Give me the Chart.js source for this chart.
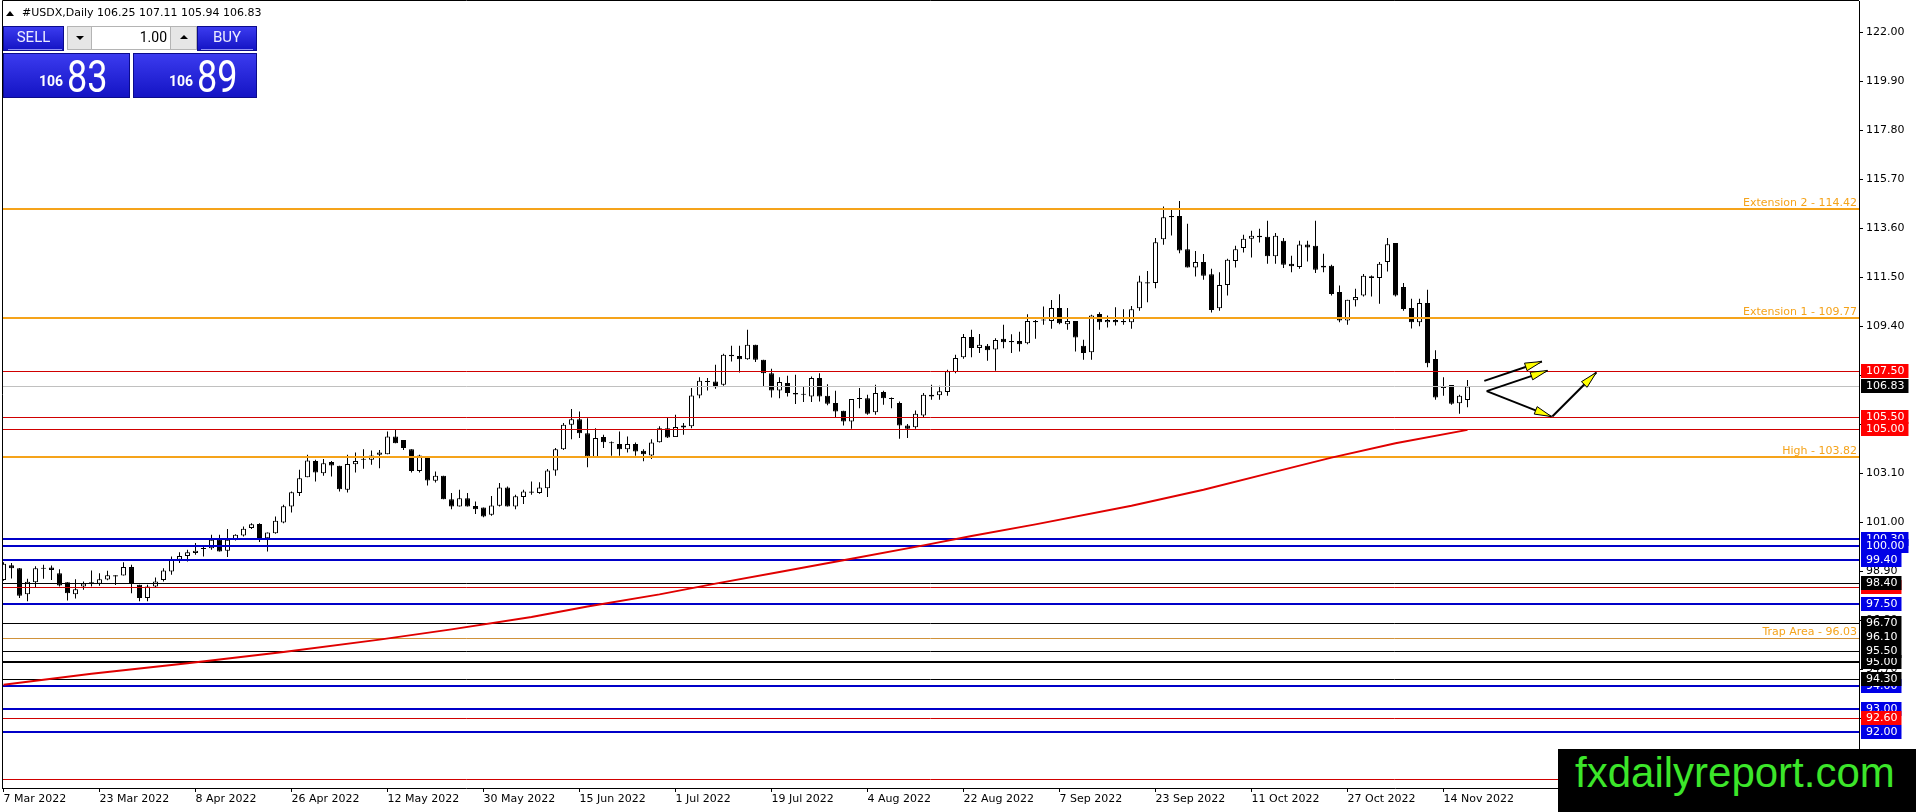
<!DOCTYPE html>
<html>
<head>
<meta charset="utf-8">
<title>#USDX,Daily</title>
<script src="https://cdn.jsdelivr.net/npm/chart.js@4.4.1/dist/chart.umd.min.js"></script>
<style>
html, body { margin: 0; padding: 0; background: #fff; }
#wrap { position: relative; width: 1916px; height: 812px; overflow: hidden; }
#myChart { position: absolute; left: 0; top: 0; }
.abs { position: absolute; white-space: pre; }
.testa { font: 11px/11px "DejaVu Sans", sans-serif; color: #000; top: 7px; }
.blu { position: absolute; box-sizing: border-box; background: linear-gradient(#3b3bef, #1414c4); border: 1px solid #0b0b8c; }
.riga { position: absolute; height: 1px; background: #8f8ff2; }
.bott { font: 15px/15px Roboto, sans-serif; color: #ececff; top: 30px; text-align: center; }
.grigio { position: absolute; box-sizing: border-box; background: #e6e6e6; border: 1px solid #b4b4b4; }
.piccolo { font: bold 14px/14px Roboto, sans-serif; color: #fff; top: 74px; }
.grande { font: 36px/36px Roboto, sans-serif; color: #fff; top: 62px; transform: scaleY(1.25); transform-origin: 0 30px; }
</style>
</head>
<body>
<div id="wrap">
<canvas id="myChart" width="1916" height="812"></canvas>

<div class="abs" style="left:6px;top:11px;width:0;height:0;border-left:4px solid transparent;border-right:4px solid transparent;border-bottom:5px solid #000;"></div>
<div class="abs testa" style="left:22px;">#USDX,Daily</div>
<div class="abs testa" style="left:97px;">106.25 107.11 105.94 106.83</div>

<div class="blu" style="left:3px;top:26px;width:61px;height:25px;"></div>
<div class="riga" style="left:8px;top:49px;width:54px;"></div>
<div class="abs bott" style="left:3px;width:61px;">SELL</div>

<div class="abs" style="left:67px;top:26px;width:130px;height:24px;box-sizing:border-box;background:#fff;border:1px solid #b4b4b4;"></div>
<div class="grigio" style="left:67px;top:26px;width:25px;height:24px;"></div>
<div class="abs" style="left:76px;top:36px;width:0;height:0;border-left:4px solid transparent;border-right:4px solid transparent;border-top:4px solid #000;"></div>
<div class="abs" style="left:92px;top:30px;width:75px;text-align:right;font:14px/14px Roboto, sans-serif;color:#000;">1.00</div>
<div class="grigio" style="left:170px;top:26px;width:27px;height:24px;"></div>
<div class="abs" style="left:180px;top:35px;width:0;height:0;border-left:4px solid transparent;border-right:4px solid transparent;border-bottom:4px solid #000;"></div>

<div class="blu" style="left:197px;top:26px;width:60px;height:25px;"></div>
<div class="riga" style="left:201px;top:49px;width:52px;"></div>
<div class="abs bott" style="left:197px;width:60px;">BUY</div>

<div class="blu" style="left:3px;top:53px;width:127px;height:45px;"></div>
<div class="blu" style="left:133px;top:53px;width:124px;height:45px;"></div>
<div class="abs piccolo" style="left:39px;">106</div>
<div class="abs grande" style="left:67px;">83</div>
<div class="abs piccolo" style="left:169px;">106</div>
<div class="abs grande" style="left:197px;">89</div>

<div class="abs" style="left:1558px;top:749px;width:358px;height:63px;background:#000;"></div>
<div class="abs" style="left:1575px;top:752px;font:42px/42px 'Liberation Sans', Arial, sans-serif;color:#3ce62a;">fxdailyreport.com</div>
</div>

<script>
const ctx =
    document.getElementById("myChart");

// candele giornaliere, dalla barra 0 (7 Mar 2022) alla 183 (17 Nov 2022)
const apertura = [
    98.54, 99.17, 99.04, 97.93, 98.44, 99.06, 99.07, 98.83, 98.44, 97.93,
    98.26, 98.44, 98.37, 98.56, 98.74, 98.73, 99.09, 98.33, 97.76, 98.26,
    98.54, 98.90, 99.40, 99.56, 99.69, 99.90, 99.90, 100.26, 99.79, 100.29,
    100.44, 100.76, 100.94, 100.33, 100.54, 101.00, 101.69, 102.26, 102.94, 103.64,
    103.11, 103.59, 103.43, 102.40, 103.50, 103.71, 103.69, 103.90, 103.93, 104.69,
    104.54, 104.14, 103.21, 103.76, 102.79, 103.00, 102.00, 101.69, 102.04, 101.71,
    101.64, 101.33, 101.72, 102.50, 101.69, 102.09, 102.33, 102.26, 102.47, 103.23,
    104.14, 105.19, 105.43, 104.83, 103.76, 104.66, 104.43, 104.36, 104.14, 104.36,
    104.07, 103.87, 104.44, 105.04, 104.66, 105.16, 105.12, 106.44, 107.04, 107.04,
    106.90, 108.19, 108.14, 108.00, 108.62, 107.98, 107.40, 106.66, 106.98, 106.55,
    106.52, 106.40, 107.19, 106.43, 106.12, 105.79, 105.33, 106.33, 106.33, 105.72,
    106.59, 106.33, 106.12, 105.16, 105.08, 105.59, 106.48, 106.45, 106.59, 107.45,
    108.08, 108.95, 108.48, 108.58, 108.41, 108.87, 108.78, 108.78, 108.68, 109.64,
    109.66, 109.64, 110.19, 109.50, 109.64, 108.57, 108.30, 109.94, 109.58, 109.68,
    109.64, 109.58, 110.18, 111.30, 111.26, 113.14, 114.14, 114.14, 112.71, 111.93,
    112.16, 111.64, 110.18, 111.18, 112.21, 112.76, 113.16, 113.29, 113.25, 112.41,
    113.08, 112.09, 111.95, 112.91, 112.86, 112.00, 112.00, 110.88, 109.66, 110.52,
    110.73, 111.55, 111.48, 112.16, 112.98, 111.09, 110.19, 109.58, 110.41, 108.01,
    106.76, 106.89, 106.11, 106.25
];

const massimo = [
    99.30, 99.26, 99.05, 98.59, 99.12, 99.19, 99.16, 99.00, 98.44, 98.57,
    98.47, 98.94, 98.83, 98.93, 98.74, 99.30, 99.19, 98.33, 98.33, 98.64,
    99.04, 99.54, 99.72, 99.83, 100.12, 99.99, 100.47, 100.47, 100.72, 100.50,
    100.83, 100.97, 100.97, 100.57, 101.26, 101.76, 102.33, 103.26, 103.90, 103.69,
    103.72, 103.64, 103.43, 103.90, 104.00, 104.14, 104.09, 104.11, 104.90, 104.97,
    104.54, 104.14, 103.90, 103.76, 103.19, 103.00, 102.26, 102.40, 102.26, 101.90,
    101.64, 102.14, 102.69, 102.54, 102.19, 102.40, 102.76, 102.72, 103.29, 104.19,
    105.26, 105.86, 105.76, 105.47, 105.04, 104.76, 104.47, 104.90, 104.69, 104.43,
    104.14, 104.57, 105.12, 105.52, 105.62, 105.26, 106.76, 107.22, 107.19, 107.76,
    108.23, 108.57, 108.57, 109.26, 108.62, 107.98, 107.59, 107.22, 107.29, 107.33,
    106.83, 107.26, 107.40, 106.93, 106.65, 105.79, 106.29, 106.76, 106.48, 106.90,
    106.65, 106.36, 106.19, 105.22, 105.80, 106.55, 106.90, 106.86, 107.55, 108.19,
    109.08, 109.26, 109.08, 108.65, 108.90, 109.47, 109.07, 109.18, 109.93, 109.68,
    110.26, 110.54, 110.78, 110.19, 109.64, 108.83, 109.90, 110.01, 109.87, 110.23,
    110.14, 110.28, 111.57, 111.78, 113.19, 114.54, 114.43, 114.78, 113.80, 112.64,
    112.51, 111.87, 111.73, 112.30, 112.86, 113.33, 113.50, 113.59, 113.93, 113.41,
    113.19, 112.43, 113.08, 113.08, 113.93, 112.52, 112.05, 111.16, 110.55, 111.02,
    111.65, 111.59, 112.16, 113.19, 112.98, 111.26, 110.59, 110.59, 110.98, 108.38,
    107.23, 106.89, 106.48, 107.11
];

const minimo = [
    98.50, 98.60, 97.76, 97.62, 98.19, 98.59, 98.54, 98.26, 97.66, 97.74,
    98.12, 98.26, 98.29, 98.52, 98.32, 98.73, 97.97, 97.62, 97.62, 98.23,
    98.47, 98.76, 99.26, 99.33, 99.62, 99.54, 99.83, 99.76, 99.52, 100.23,
    100.40, 100.72, 100.16, 99.76, 100.52, 100.97, 101.43, 102.14, 102.94, 102.76,
    103.00, 102.97, 102.33, 102.29, 103.14, 103.30, 103.47, 103.33, 103.93, 104.40,
    104.11, 103.14, 103.14, 102.59, 102.71, 102.00, 101.57, 101.69, 101.69, 101.36,
    101.22, 101.29, 101.69, 101.69, 101.57, 101.79, 102.19, 102.23, 102.09, 103.00,
    104.11, 104.57, 104.62, 103.37, 103.76, 104.19, 103.86, 103.86, 104.00, 103.86,
    103.62, 103.72, 104.43, 104.62, 104.66, 104.76, 105.04, 106.33, 106.66, 106.73,
    106.86, 107.90, 107.43, 107.97, 107.88, 106.83, 106.36, 106.33, 106.40, 106.08,
    106.16, 106.16, 106.19, 106.02, 105.50, 105.16, 105.02, 105.90, 105.62, 105.62,
    106.05, 105.90, 104.59, 104.62, 105.02, 105.50, 106.26, 106.26, 106.43, 107.40,
    108.02, 108.08, 108.26, 107.93, 107.50, 108.47, 108.26, 108.33, 108.64, 108.87,
    109.47, 109.30, 109.50, 109.26, 108.33, 107.97, 107.97, 109.26, 109.36, 109.44,
    109.47, 109.30, 110.07, 110.44, 111.04, 112.90, 113.30, 112.54, 111.93, 111.54,
    111.40, 110.00, 110.07, 110.73, 111.93, 112.57, 112.36, 113.00, 112.09, 112.09,
    111.91, 111.72, 111.88, 112.19, 111.69, 111.72, 110.73, 109.58, 109.48, 110.26,
    110.69, 110.69, 110.38, 111.76, 110.69, 110.08, 109.31, 109.41, 107.65, 106.26,
    106.43, 106.05, 105.66, 105.94
];

const chiusura = [
    99.23, 99.04, 97.86, 98.46, 99.04, 99.02, 98.96, 98.30, 97.97, 98.14,
    98.39, 98.36, 98.57, 98.74, 98.69, 99.09, 98.36, 97.76, 98.26, 98.47,
    98.94, 99.40, 99.56, 99.72, 99.79, 99.86, 100.26, 99.76, 100.26, 100.47,
    100.73, 100.93, 100.26, 100.57, 101.07, 101.70, 102.30, 102.90, 103.66, 103.14,
    103.54, 103.44, 102.43, 103.51, 103.64, 103.69, 103.87, 104.00, 104.69, 104.40,
    104.19, 103.21, 103.87, 102.80, 103.00, 102.00, 101.69, 102.04, 101.69, 101.57,
    101.26, 101.73, 102.50, 101.69, 102.12, 102.33, 102.28, 102.50, 103.23, 104.14,
    105.19, 105.43, 104.83, 103.83, 104.62, 104.44, 104.40, 104.14, 104.36, 104.04,
    103.93, 104.43, 105.04, 104.64, 105.09, 105.07, 106.44, 107.07, 107.02, 106.80,
    108.19, 108.13, 108.00, 108.62, 107.98, 107.40, 106.66, 107.02, 106.55, 106.49,
    106.48, 107.19, 106.40, 106.09, 105.76, 105.33, 106.29, 106.29, 105.66, 106.55,
    106.33, 106.29, 105.16, 105.02, 105.66, 106.48, 106.40, 106.62, 107.48, 108.05,
    108.95, 108.48, 108.62, 108.38, 108.82, 108.73, 108.73, 108.64, 109.64, 109.58,
    109.70, 110.19, 109.54, 109.64, 108.93, 108.26, 109.87, 109.58, 109.68, 109.58,
    109.58, 110.14, 111.33, 111.24, 113.01, 114.08, 114.08, 112.66, 111.93, 112.16,
    111.58, 110.11, 111.18, 112.26, 112.71, 113.16, 113.29, 113.22, 112.41, 113.29,
    112.05, 111.98, 112.91, 112.79, 111.83, 111.93, 110.79, 109.66, 110.55, 110.66,
    111.58, 111.48, 112.09, 112.93, 110.73, 110.15, 109.58, 110.41, 107.82, 106.36,
    106.85, 106.09, 106.43, 106.83
];

// media mobile letta a intervalli
const maBarre = [0, 11, 23, 35, 47, 56, 66, 73, 82, 89, 97, 106, 115, 121, 129, 141, 150, 159, 166, 174, 183];
const maValori = [94.05, 94.52, 94.97, 95.45, 95.98, 96.42, 96.95, 97.40, 97.92, 98.38, 98.88, 99.45, 100.02, 100.42, 100.92, 101.72, 102.40, 103.18, 103.78, 104.40, 104.97];

const tickBarre = [0, 12, 24, 36, 48, 60, 72, 84, 96, 108, 120, 132, 144, 156, 168, 180];
const etichetteDate = ["7 Mar 2022", "23 Mar 2022", "8 Apr 2022", "26 Apr 2022", "12 May 2022", "30 May 2022",
    "15 Jun 2022", "1 Jul 2022", "19 Jul 2022", "4 Aug 2022", "22 Aug 2022", "7 Sep 2022",
    "23 Sep 2022", "11 Oct 2022", "27 Oct 2022", "14 Nov 2022"];
const tickPrezzi = [122.00, 119.90, 117.80, 115.70, 113.60, 111.50, 109.40, 107.30, 105.20, 103.10,
    101.00, 98.90, 96.80, 94.70, 92.60, 90.50];

// livelli orizzontali
const livelliArancio = [114.42, 109.77, 103.82];
const nomiArancio = ["Extension 2", "Extension 1", "High"];
const livelloTrappola = 96.03;
const livelliBlu = [100.30, 100.00, 99.40, 97.50, 94.00, 93.00, 92.00];
const livelliRossi = [107.50, 105.50, 105.00, 98.25, 92.60, 90.00];
const livelliNeri = [98.40, 96.70, 95.50, 94.30];
const livelloNeroSpesso = 95.00;
const prezzoAttuale = 106.83;

// etichette sull'asse prezzi, nell'ordine in cui si sovrappongono
const tagPrezzi = [100.30, 100.00, 99.40, 98.25, 98.40, 97.50, 96.70, 96.10, 95.00, 95.50,
    94.00, 94.30, 93.00, 92.00, 92.60, 107.50, 106.83, 105.50, 105.00];
const tagTipi = ["b", "b", "b", "r", "k", "b", "k", "k", "k", "k",
    "b", "k", "b", "b", "r", "r", "k", "r", "r"];

// frecce disegnate a destra (barra, prezzo)
const frecceDa = [[185.1, 107.07], [185.4, 106.63], [185.4, 106.63], [193.6, 105.54]];
const frecceA = [[192.3, 107.90], [193.0, 107.51], [193.5, 105.54], [199.1, 107.43]];

const coloriTag = { b: "#0000e6", r: "#ff0000", k: "#000000" };
const ARANCIO = "#f5a31a";
const FONT = '11px "DejaVu Sans"';

const corpi = apertura.map((o, i) => ({ x: i, y: [o, chiusura[i]] }));
const ombre = minimo.map((l, i) => ({ x: i, y: [l, massimo[i]] }));
const media = maBarre.map((b, k) => ({ x: b, y: maValori[k] }));

function freccia(c, x1, y1, x2, y2){

    c.strokeStyle = "#000";
    c.lineWidth = 2;
    c.beginPath();
    c.moveTo(x1, y1);
    c.lineTo(x2, y2);
    c.stroke();

    const ang = Math.atan2(y2 - y1, x2 - x1);
    const bx = x2 - 17 * Math.cos(ang);
    const by = y2 - 17 * Math.sin(ang);
    const nx = -Math.sin(ang) * 4;
    const ny = Math.cos(ang) * 4;

    c.fillStyle = "#ffff00";
    c.lineWidth = 1;
    c.beginPath();
    c.moveTo(x2, y2);
    c.lineTo(bx + nx, by + ny);
    c.lineTo(bx - nx, by - ny);
    c.closePath();
    c.fill();
    c.stroke();
}

const disegni = {

    id: "disegni",

    beforeDatasetDraw(chart, args){

        if(args.index !== 0){
            return;
        }

        const c = chart.ctx;
        const a = chart.chartArea;
        const y = chart.scales.y;

        function riga(v, colore, spessore){
            const py = Math.round(y.getPixelForValue(v)) + (spessore % 2 ? 0.5 : 0);
            c.strokeStyle = colore;
            c.lineWidth = spessore;
            c.beginPath();
            c.moveTo(a.left, py);
            c.lineTo(a.right, py);
            c.stroke();
        }

        c.save();
        c.beginPath();
        c.rect(a.left, a.top, a.right - a.left, a.bottom - a.top);
        c.clip();

        riga(prezzoAttuale, "#c0c0c0", 1);
        livelliRossi.forEach(v => riga(v, "#d00000", 1));
        livelliNeri.forEach(v => riga(v, "#000000", 1));
        riga(livelloNeroSpesso, "#000000", 2);
        riga(livelloTrappola, "#d0923a", 1);
        livelliBlu.forEach(v => riga(v, "#0000c8", 2));
        livelliArancio.forEach(v => riga(v, ARANCIO, 2));

        c.restore();
    },

    afterDatasetsDraw(chart){

        const c = chart.ctx;
        const a = chart.chartArea;
        const x = chart.scales.x;
        const y = chart.scales.y;

        c.save();
        c.font = FONT;
        c.fillStyle = ARANCIO;
        c.textAlign = "right";
        c.textBaseline = "alphabetic";

        livelliArancio.forEach((v, k) => {
            c.fillText(nomiArancio[k] + " - " + v.toFixed(2), a.right - 2, Math.round(y.getPixelForValue(v)) - 3);
        });
        c.fillText("Trap Area - " + livelloTrappola.toFixed(2), a.right - 2, Math.round(y.getPixelForValue(livelloTrappola)) - 3);

        frecceDa.forEach((p, k) => {
            const q = frecceA[k];
            freccia(c, x.getPixelForValue(p[0]), y.getPixelForValue(p[1]),
                x.getPixelForValue(q[0]), y.getPixelForValue(q[1]));
        });

        c.restore();
    },

    afterDraw(chart){

        const c = chart.ctx;
        const a = chart.chartArea;
        const y = chart.scales.y;

        c.save();

        c.strokeStyle = "#000";
        c.lineWidth = 1;
        c.beginPath();
        c.moveTo(a.left + 0.5, a.bottom);
        c.lineTo(a.left + 0.5, 0.5);
        c.lineTo(a.right, 0.5);
        c.stroke();

        c.font = FONT;
        c.textAlign = "left";
        c.textBaseline = "middle";

        tagPrezzi.forEach((v, k) => {
            const py = Math.round(y.getPixelForValue(v));
            const testo = v.toFixed(2);
            const w = c.measureText(testo).width;
            c.fillStyle = coloriTag[tagTipi[k]];
            c.fillRect(a.right + 2, py - 7, w + 9, 14);
            c.fillStyle = "#ffffff";
            c.fillText(testo, a.right + 7, py + 0.5);
        });

        c.restore();
    }
};

const grafico = new Chart(ctx, {

    type: "bar",

    data: {

        datasets: [
            {
                type: "line",
                data: media,
                borderColor: "#e00000",
                borderWidth: 2,
                pointRadius: 0,
                tension: 0,
                order: 0
            },
            {
                data: corpi,
                backgroundColor: (c) => chiusura[c.dataIndex] > apertura[c.dataIndex] ? "#ffffff" : "#000000",
                borderColor: "#000000",
                borderWidth: 1,
                borderSkipped: false,
                barThickness: 5,
                minBarLength: 1,
                grouped: false,
                inflateAmount: 0,
                order: 1
            },
            {
                data: ombre,
                backgroundColor: "#000000",
                borderWidth: 0,
                barThickness: 1,
                grouped: false,
                inflateAmount: 0,
                order: 2
            }
        ]
    },

    options: {

        responsive: false,
        animation: false,
        devicePixelRatio: 1,

        layout: {
            padding: { left: 2, top: 1, right: 0, bottom: 0 }
        },

        plugins: {
            legend: { display: false },
            tooltip: { enabled: false }
        },

        scales: {

            x: {
                type: "linear",
                min: -0.1875,
                max: 231.9375,
                offset: false,
                afterFit(s){
                    s.height = 24;
                    s.paddingLeft = 0;
                    s.paddingRight = 0;
                },
                afterBuildTicks(s){
                    s.ticks = tickBarre.map(v => ({ value: v }));
                },
                ticks: {
                    callback: (v, i) => etichetteDate[i],
                    align: "start",
                    maxRotation: 0,
                    autoSkip: false,
                    padding: 1,
                    color: "#000",
                    font: { family: "DejaVu Sans", size: 11 }
                },
                grid: {
                    drawOnChartArea: false,
                    tickLength: 4,
                    color: "#000",
                    offset: false
                },
                border: { display: true, color: "#000", width: 1 }
            },

            y: {
                position: "right",
                min: 123.35 - 787 / 23.3333,
                max: 123.35,
                afterFit(s){
                    s.width = 57;
                    s.paddingTop = 0;
                    s.paddingBottom = 0;
                },
                afterBuildTicks(s){
                    s.ticks = tickPrezzi.map(v => ({ value: v }));
                },
                ticks: {
                    callback: (v) => Number(v).toFixed(2),
                    autoSkip: false,
                    padding: 3,
                    color: "#000",
                    font: { family: "DejaVu Sans", size: 11 }
                },
                grid: {
                    drawOnChartArea: false,
                    tickLength: 4,
                    color: "#000"
                },
                border: { display: true, color: "#000", width: 1 }
            }
        }
    },

    plugins: [disegni]
});
</script>
</body>
</html>
